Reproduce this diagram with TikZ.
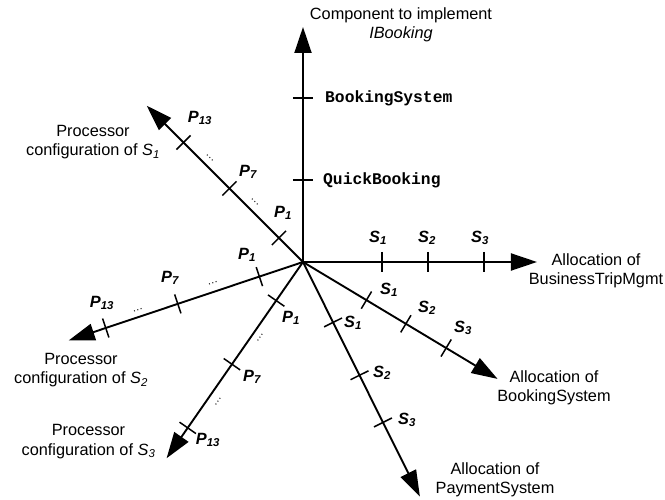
\documentclass[tikz,border=0pt]{standalone}
\usepackage{fontspec}
\setmainfont{Liberation Sans}
\setmonofont{Liberation Mono}
\usetikzlibrary{arrows.meta,calc}
\newcommand\lblsize{\fontsize{16.3}{19.5}\selectfont}
\tikzset{
  axis/.style={line width=1.9pt, -{Triangle[length=26pt,width=17pt]}},
  tickmark/.style={line width=1.5pt},
  val/.style={font=\lblsize\bfseries\itshape, inner sep=0pt},
  impl/.style={font=\lblsize\ttfamily\bfseries, anchor=west, inner sep=0pt},
  title/.style={font=\lblsize, align=center, inner sep=0pt},
  gap/.style={font=\fontsize{11}{11}\selectfont, inner sep=0pt},
}
\begin{document}
\begin{tikzpicture}[x=1pt,y=1pt]
\useasboundingbox (-303,-238) rectangle (362,262);
\coordinate (O) at (0,0);

% the seven axes, all starting at the common origin
\foreach \ang/\len/\nm in {90/235/impl, 0/234/bt, -31/227/bs, -63.5/262/ps,
                           135/221/pa, 198.5/247/pb, 235.2/239/pc} {
  \coordinate (\nm-tip) at (\ang:\len);
  \draw[axis] (O) -- (\nm-tip);
}

% tick marks across the axes
\foreach \ang/\d/\nm in {90/82/impl-1, 90/164/impl-2,
                         0/79/bt-1, 0/125/bt-2, 0/181/bt-3,
                         -31/74/bs-1, -31/120/bs-2, -31/167/bs-3,
                         -63.5/67.5/ps-1, -63.5/126.6/ps-2, -63.5/179.3/ps-3,
                         135/34/pa-1, 135/104/pa-7, 135/169/pa-13,
                         198.5/46/pb-1, 198.5/132/pb-7, 198.5/208/pb-13,
                         235.2/47/pc-1, 235.2/124.5/pc-7, 235.2/202/pc-13} {
  \coordinate (\nm) at (\ang:\d);
  \draw[tickmark] ($(\nm)+({\ang+90}:10)$) -- ($(\nm)+({\ang-90}:10)$);
}

% component choices
\node[impl] (qb) at (20,82) {QuickBooking};
\node[impl] (bks) at (22,164) {BookingSystem};

% server values
\node[val] (bt-s1) at (75,24) {S\textsubscript{1}};
\node[val] (bt-s2) at (124,24) {S\textsubscript{2}};
\node[val] (bt-s3) at (177,24) {S\textsubscript{3}};
\node[val] (bs-s1) at (86,-28) {S\textsubscript{1}};
\node[val] (bs-s2) at (124,-46) {S\textsubscript{2}};
\node[val] (bs-s3) at (160,-66) {S\textsubscript{3}};
\node[val] (ps-s1) at (50,-61) {S\textsubscript{1}};
\node[val] (ps-s2) at (79,-111) {S\textsubscript{2}};
\node[val] (ps-s3) at (104,-158) {S\textsubscript{3}};

% processor values
\node[val] (pa-l1) at (-20,49) {P\textsubscript{1}};
\node[val] (pa-l7) at (-55,90) {P\textsubscript{7}};
\node[val] (pa-l13) at (-103,144) {P\textsubscript{13}};
\node[val] (pb-l1) at (-56,7) {P\textsubscript{1}};
\node[val] (pb-l7) at (-133,-16) {P\textsubscript{7}};
\node[val] (pb-l13) at (-201,-41) {P\textsubscript{13}};
\node[val] (pc-l1) at (-12,-56) {P\textsubscript{1}};
\node[val] (pc-l7) at (-51,-115) {P\textsubscript{7}};
\node[val] (pc-l13) at (-95,-178) {P\textsubscript{13}};

% omitted processors
\node[gap, rotate=-45] (pa-g1) at (-48,60) {\dots};
\node[gap, rotate=-45] (pa-g2) at (-93,104) {\dots};
\node[gap, rotate=18.5] (pb-g1) at (-90,-21) {\dots};
\node[gap, rotate=18.5] (pb-g2) at (-165,-48) {\dots};
\node[gap, rotate=55.2] (pc-g1) at (-43,-76) {\dots};
\node[gap, rotate=55.2] (pc-g2) at (-85,-140) {\dots};

% axis titles
\node[title] (impl-title) at (98,237) {Component to implement\\\textit{IBooking}};
\node[title] (bt-title) at (293,-9) {Allocation of\\BusinessTripMgmt};
\node[title] (bs-title) at (251,-126) {Allocation of\\BookingSystem};
\node[title] (ps-title) at (192,-218) {Allocation of\\PaymentSystem};
\node[title] (pa-title) at (-210,120) {Processor\\configuration of \textit{S}\textsubscript{\textit{1}}};
\node[title] (pb-title) at (-222,-108) {Processor\\configuration of \textit{S}\textsubscript{\textit{2}}};
\node[title] (pc-title) at (-214.5,-179.5) {Processor\\configuration of \textit{S}\textsubscript{\textit{3}}};
\end{tikzpicture}
\end{document}
